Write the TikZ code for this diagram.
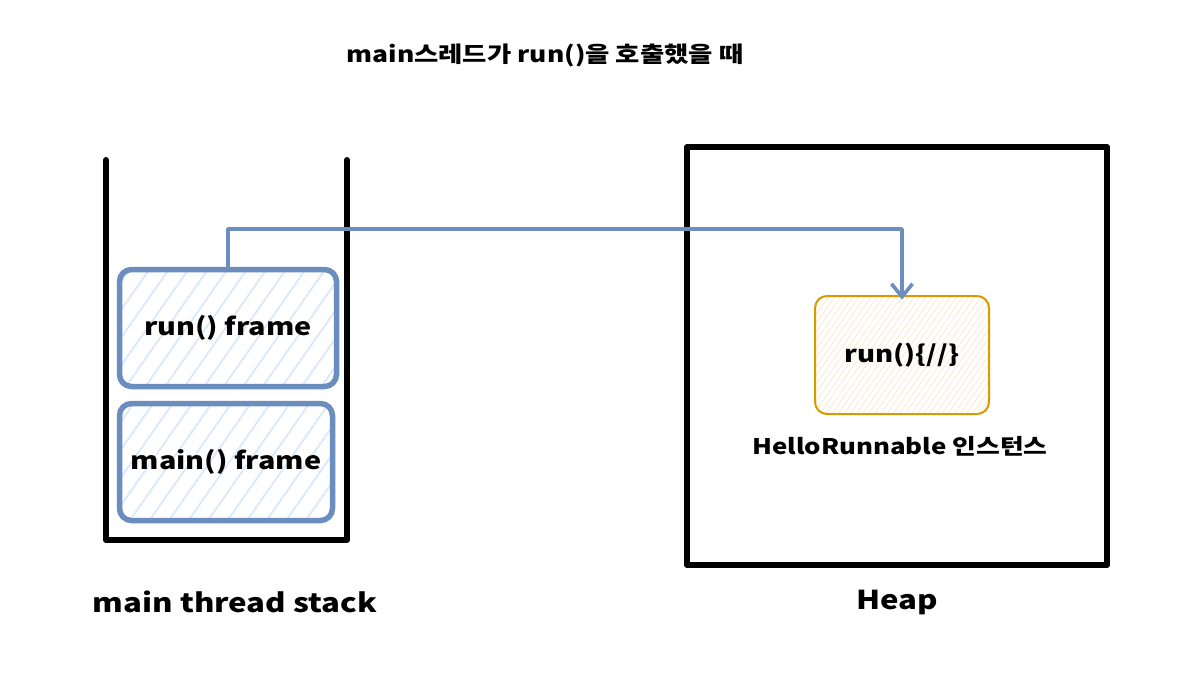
\documentclass[tikz,border=0pt]{standalone}
\usepackage{fontspec}
\setmainfont{Noto Sans CJK KR}[FakeStretch=1.2]
\usetikzlibrary{patterns.meta,arrows.meta}
\definecolor{bstroke}{HTML}{6C8EBF}
\definecolor{bfill}{HTML}{DAE8FC}
\definecolor{ostroke}{HTML}{D79B00}
\definecolor{ofill}{HTML}{FFE6CC}
\tikzset{
  wall/.style={line width=6pt, black, line join=round, line cap=round},
  frame/.style={draw=bstroke, line width=5.5pt, rounded corners=12pt,
    pattern={Lines[angle=55,distance=16pt,line width=1.8pt]}, pattern color=bfill,
    minimum width=217pt, minimum height=117pt, font=\bfseries\fontsize{24}{28}\selectfont},
  obj/.style={draw=ostroke, line width=2pt, rounded corners=12pt,
    pattern={Lines[angle=55,distance=5pt,line width=0.7pt]}, pattern color=ofill,
    minimum width=174pt, minimum height=118pt, font=\bfseries\fontsize{23}{27}\selectfont},
  label/.style={font=\bfseries\fontsize{26}{30}\selectfont},
  refline/.style={draw=bstroke, line width=3.6pt, line join=round,
    -{Straight Barb[length=13pt,width=21pt]}}
}
\begin{document}
\begin{tikzpicture}[x=1pt,y=-1pt]
\useasboundingbox (0,0) rectangle (1190,678);
\fill[white] (0,0) rectangle (1190,678);
% title
\node[font=\bfseries\fontsize{22}{26}\selectfont] (title) at (545,55) {main스레드가 run()을 호출했을 때};
% stack
\draw[wall] (106,160) -- (106,540) -- (347,540) -- (347,160);
\node[frame] (runf) at (228,328) {run() frame};
\node[frame, minimum width=213pt] (mainf) at (226,462) {main() frame};
\node[label] (stacklbl) at (235,602) {main thread stack};
% heap
\draw[wall] (687,147) rectangle (1107,565);
\node[label] (heaplbl) at (897,602) {Heap};
\node[obj] (hobj) at (902,355) {run()\{//\}};
\node[font=\bfseries\fontsize{21.5}{25}\selectfont] (objlbl) at (900,446) {HelloRunnable 인스턴스};
% connector
\coordinate (bend) at (902,229);
\draw[refline] (runf.north) |- (bend) -- ([yshift=-4pt]hobj.north);
\end{tikzpicture}
\end{document}
